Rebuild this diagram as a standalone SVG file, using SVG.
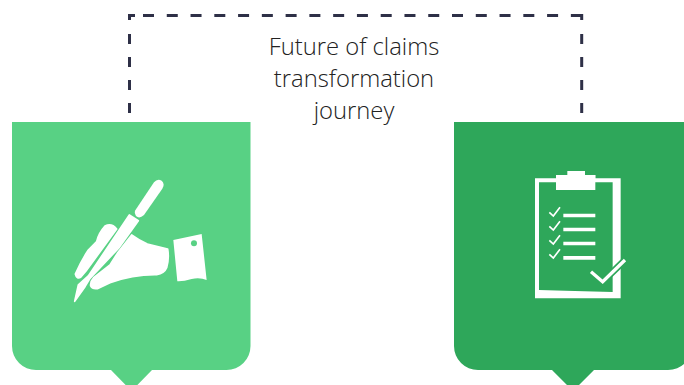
<svg xmlns="http://www.w3.org/2000/svg" width="684" height="385" viewBox="0 0 684 385">
<style>
.dash{fill:none;stroke:#2e3047;stroke-width:3}
.label{font-family:"Open Sans","Noto Sans",sans-serif;font-weight:300;font-size:23.800px;fill:#222;text-anchor:middle}
.w{fill:#fff}
.f{fill:#fff;stroke:#fff;stroke-width:5;stroke-linejoin:round}
</style>
<rect width="684" height="385" fill="#fff"/>
<g id="connectors">
<path class="dash" d="M129.500 113V33" stroke-dasharray="10 13"/>
<path class="dash" d="M129.500 20V15.500H135"/>
<path class="dash" d="M143 15.500H572" stroke-dasharray="11 12.770"/>
<path class="dash" d="M572 15.500H581.700V20"/>
<path class="dash" d="M581.700 113V33" stroke-dasharray="10 13"/>
</g>
<g id="label"><text class="label" x="354" y="55">Future of claims</text><text class="label" x="354" y="87">transformation</text><text class="label" x="354" y="119">journey</text></g>
<g id="node-left">
<path fill="#58d184" d="M12 122H250.500V346A24 24 0 0 1 226.500 370H152L131.500 391L111 370H36A24 24 0 0 1 12 346Z"/>
<g transform="translate(60 170) scale(.3333)">
<path class="w" d="M225 122L282 37Q292 25 305 32Q316 42 307 56L252 135Q238 148 228 138Q222 130 225 122Z"/>
<path class="f" d="M208 135L235 152L178 232L90 325L75 350L44 394L55 345L85 318Z"/>
<path class="f" d="M46 312Q65 270 85 240L110 215Q115 190 135 168Q155 158 170 177L78 303L62 322Q50 328 46 312Z"/>
<path class="f" d="M215 195Q235 210 262 222L323 237Q328 265 320 293Q313 310 290 314Q220 313 150 338L112 356Q97 358 92 348Q90 335 102 322L150 285L172 250Z"/>
<path class="w" d="M340 210L425 192L440 330Q420 322 395 327Q370 335 352 334Z"/>
<circle cx="402" cy="220" r="9" fill="#58d184"/>
</g>
</g>
<g id="node-right">
<path fill="#2ea75a" d="M454 122H692V346A24 24 0 0 1 668 370H594L573 391L552 370H478A24 24 0 0 1 454 346Z"/>
<g transform="translate(520 165) scale(.3333)">
<path class="w" fill-rule="evenodd" d="M45 40H108V30H142V18H195V30H226V40H302V400H45ZM57 52V375Q160 378 278 381V52Z"/>
<rect class="w" x="108" y="30" width="118" height="45"/>
<path fill="none" stroke="#2ea75a" stroke-width="20" d="M213 320L248 350L315 285"/>
<path fill="none" stroke="#fff" stroke-width="10" d="M213 320L248 350L315 285"/>
<path fill="none" stroke="#fff" stroke-width="11" d="M130 151.500H226M130 193.500H226M130 235.500H226M130 278.500H226"/>
<path fill="none" stroke="#fff" stroke-width="5" d="M88 142L100 153L120 127M88 184L100 195L120 169M88 226L100 237L120 211M88 268L100 279L120 253"/>
</g>
</g>
</svg>
